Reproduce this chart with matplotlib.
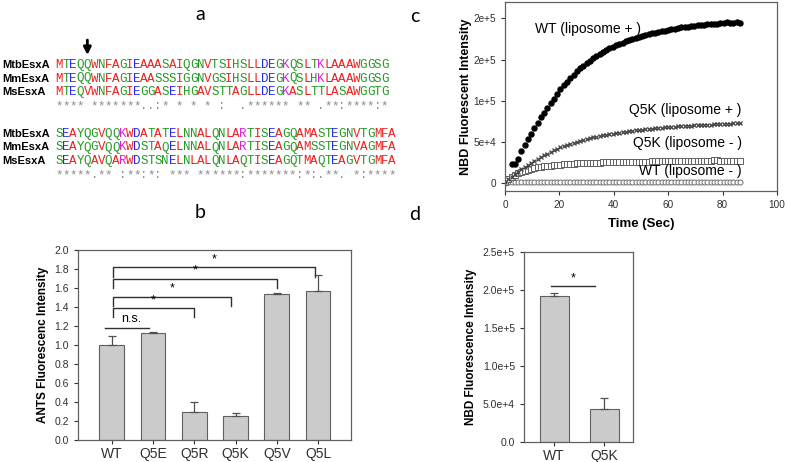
import matplotlib
matplotlib.use('Agg')
import matplotlib.pyplot as plt
import numpy as np

plt.rcParams['font.family'] = 'Liberation Sans'

W, H = 787, 462

# ---- panel a: EsxA alignment ----
seq_names = ['MtbEsxA', 'MmEsxA', 'MsEsxA']
block1 = ['MTEQQWNFAGIEAAASAIQGNVTSIHSLLDEGKQSLTKLAAAWGGSG',
          'MTEQQWNFAGIEAASSSIGGNVGSIHSLLDEGKQSLHKLAAAWGGSG',
          'MTEQVWNFAGIEGGASEIHGAVSTTAGLLDEGKASLTTLASAWGGTG']
cons1 = '**** *******..:* * * * :  .****** ** .**:****:*'
block2 = ['SEAYQGVQQKWDATATELNNALQNLARTISEAGQAMASTEGNVTGMFA',
          'SEAYQGVQQKWDSTAQELNNALQNLARTISEAGQAMSSTEGNVAGMFA',
          'SEAYQAVQARWDSTSNELNLALQNLAQTISEAGQTMAQTEAGVTGMFA']
cons2 = '*****.** :**:*: *** ******:*******:*:.**. *:****'

# ---- panel b: ANTS ----
b_labels = ['WT', 'Q5E', 'Q5R', 'Q5K', 'Q5V', 'Q5L']
b_values = [1.00, 1.13, 0.29, 0.25, 1.54, 1.57]
b_errors = [0.10, 0.01, 0.11, 0.03, 0.01, 0.17]
b_sig_ends = [2.0, 2.9, 4.0, 4.92]
b_sig_heights = [1.39, 1.51, 1.70, 1.82]

# ---- panel c: NBD kinetics (values in units of 1e3) ----
time_sec = [0.0, 1.2, 2.4, 3.6, 4.8, 6.0, 7.2, 8.4, 9.6, 10.8, 12.0, 13.2, 14.4, 15.6,
            16.8, 18.0, 19.2, 20.4, 21.6, 22.8, 24.0, 25.2, 26.4, 27.6, 28.8, 30.0,
            31.2, 32.4, 33.6, 34.8, 36.0, 37.2, 38.4, 39.6, 40.8, 42.0, 43.2, 44.4,
            45.6, 46.8, 48.0, 49.2, 50.4, 51.6, 52.8, 54.0, 55.2, 56.4, 57.6, 58.8,
            60.0, 61.2, 62.4, 63.6, 64.8, 66.0, 67.2, 68.4, 69.6, 70.8, 72.0, 73.2,
            74.4, 75.6, 76.8, 78.0, 79.2, 80.4, 81.6, 82.8, 84.0, 85.2, 86.4]
wt_lipo = [np.nan, np.nan, 22.5, 22.8, 29.5, 38.5, 46.0, 53.0, 59.5, 66.5, 73.0, 79.5,
           85.5, 91.5, 97.0, 102.5, 108.0, 113.7, 118.6, 123.2, 127.5, 131.6, 135.5,
           139.1, 142.5, 145.7, 148.7, 151.6, 154.2, 156.8, 159.1, 161.4, 163.5, 165.4,
           167.3, 169.0, 170.7, 172.2, 173.7, 175.1, 176.4, 177.6, 178.7, 179.8, 180.8,
           181.8, 182.7, 183.5, 184.5, 185.3, 186.2, 187.0, 187.6, 188.4, 189.0, 189.4,
           190.1, 190.6, 191.0, 191.6, 192.0, 192.3, 192.8, 193.0, 193.3, 193.8, 194.0,
           194.3, 195.4, 195.0, 194.8, 195.2, 194.9]
q5k_lipo = [1.0, 4.5, 7.5, 10.5, 13.5, 16.5, 19.5, 22.0, 24.5, 27.0, 29.5, 31.5, 33.5,
            35.5, 37.5, 39.5, 41.2, 43.0, 44.5, 46.0, 47.5, 48.8, 50.0, 51.2, 52.3, 53.3,
            54.3, 55.2, 56.1, 57.0, 57.8, 58.5, 59.2, 59.9, 60.5, 61.1, 61.7, 62.3, 62.8,
            63.3, 63.8, 64.3, 64.7, 65.1, 65.5, 65.9, 66.3, 66.7, 67.0, 67.3, 67.6, 67.9,
            68.2, 68.5, 68.8, 69.0, 69.3, 69.5, 69.8, 70.0, 70.2, 70.4, 70.6, 70.8, 71.0,
            71.2, 71.4, 71.6, 71.8, 72.0, 72.2, 72.4, 72.6]
q5k_nolipo = [1.0, 4.0, 7.0, 9.5, 11.5, 13.3, 14.8, 16.0, 17.0, 17.9, 18.7, 19.4, 20.0,
              20.5, 21.0, 21.4, 21.8, 22.2, 22.5, 22.8, 23.1, 23.3, 23.5, 23.7, 23.9,
              24.1, 24.2, 24.4, 24.5, 24.6, 24.8, 24.9, 25.0, 25.1, 25.2, 25.2, 25.3,
              25.4, 25.5, 25.5, 25.6, 25.6, 25.7, 25.8, 25.8, 25.9, 25.9, 26.0, 26.0,
              26.1, 26.1, 26.2, 26.2, 26.3, 26.3, 26.4, 26.4, 26.5, 26.5, 26.6, 26.6,
              26.7, 26.7, 26.8, 27.3, 27.6, 27.0, 26.8, 26.8, 26.9, 26.9, 27.0, 27.0]
wt_nolipo = [0.0, 0.6, 0.8, 0.9, 1.0, 1.0, 1.1, 1.0, 1.0, 1.1,
             1.0, 1.0, 1.1, 1.0, 1.0, 1.1, 1.0, 1.0, 1.0, 1.1,
             1.0, 1.0, 1.1, 1.0, 1.0, 1.0, 1.1, 1.0, 1.0, 1.0,
             1.1, 1.0, 1.0, 1.0, 1.1, 1.0, 1.0, 1.0, 1.1, 1.0,
             1.0, 1.0, 1.1, 1.0, 1.0, 1.0, 1.1, 1.0, 1.0, 1.0,
             1.1, 1.0, 1.0, 1.0, 1.1, 1.0, 1.0, 1.0, 1.1, 1.0,
             1.0, 1.0, 1.1, 1.0, 1.0, 1.0, 1.1, 1.0, 1.0, 1.0,
             1.1, 1.0, 1.2]
c_ytick_labels = ['0', '5e+4', '1e+5', '2e+5', '2e+5']

# ---- panel d: NBD endpoint ----
d_labels = ['WT', 'Q5K']
d_values = [1.925e5, 4.3e4]
d_errors = [4e3, 1.5e4]

bar_face = '#cbcbcb'
edge = '#606060'


def px_axes(l, t, r, b):
    return fig.add_axes([l / W, 1 - b / H, (r - l) / W, (b - t) / H])


def style_box(ax):
    for s in ax.spines.values():
        s.set_color(edge)
        s.set_linewidth(0.9)
    ax.tick_params(colors='#303030', direction='out', length=3, width=0.8)


fig = plt.figure(figsize=(W / 100, H / 100), dpi=100)

# panel b
axb = px_axes(78, 250, 351, 440)
xb = np.arange(len(b_labels))
axb.bar(xb, b_values, width=0.6, color=bar_face, edgecolor=edge, linewidth=0.8, zorder=2)
axb.errorbar(xb, b_values, yerr=[np.zeros(len(b_errors)), b_errors], fmt='none',
             ecolor='#505050', elinewidth=0.9, capsize=3, capthick=0.9, zorder=3)
axb.set_xlim(-0.82, 5.8)
axb.set_ylim(0, 2.0)
axb.set_yticks(np.arange(0, 2.01, 0.2))
axb.set_yticklabels(['%.1f' % v for v in np.arange(0, 2.01, 0.2)], fontsize=7.5)
axb.set_xticks(xb)
axb.set_xticklabels(b_labels, fontsize=10)
axb.tick_params(axis='x', length=2, pad=2)
axb.set_ylabel('ANTS Fluorescenc Intensity', fontsize=8.5, fontweight='bold', labelpad=4)
style_box(axb)
for end, h in zip(b_sig_ends, b_sig_heights):
    axb.plot([0.02, 0.02, end, end], [h - 0.1, h, h, h - 0.1], color='#303030', lw=1.0)
    axb.text((0.02 + end) / 2, h + 0.02, '*', ha='center', va='bottom', fontsize=9)
axb.plot([-0.17, 0.9], [1.18, 1.18], color='#303030', lw=1.0)
axb.text(0.48, 1.21, 'n.s.', ha='center', va='bottom', fontsize=9)

# panel c
axc = px_axes(505, 2, 777, 191)
tc = np.array(time_sec)
axc.plot(tc, np.array(wt_nolipo) * 1e3, 'o', ms=3.6, mfc='white', mec='#707070', mew=0.7)
axc.plot(tc, np.array(q5k_nolipo) * 1e3, 's', ms=3.8, mfc='white', mec='#606060', mew=0.7)
axc.plot(tc, np.array(q5k_lipo) * 1e3, 'x', ms=3.4, color='#404040', mew=0.9)
axc.plot(tc, np.array(wt_lipo) * 1e3, 'o', ms=3.6, color='black')
axc.set_xlim(0, 100)
axc.set_ylim(-1e4, 2.2e5)
axc.set_xticks(range(0, 101, 20))
axc.set_xticklabels([str(v) for v in range(0, 101, 20)], fontsize=7.2)
axc.set_yticks([0, 5e4, 1e5, 1.5e5, 2e5])
axc.set_yticklabels(c_ytick_labels, fontsize=7.2)
axc.set_xlabel('Time (Sec)', fontsize=9.5, fontweight='bold', labelpad=6)
axc.set_ylabel('NBD Fluorescent Intensity', fontsize=9, fontweight='bold', labelpad=1)
style_box(axc)
axc.text(11, 1.87e5, 'WT (liposome + )', fontsize=10, ha='left', va='center')
axc.text(87, 8.8e4, 'Q5K (liposome + )', fontsize=10, ha='right', va='center')
axc.text(87, 4.8e4, 'Q5K (liposome - )', fontsize=10, ha='right', va='center')
axc.text(87, 1.4e4, 'WT (liposome - )', fontsize=10, ha='right', va='center')

# panel d
axd = px_axes(524, 252, 633, 442)
xd = np.arange(len(d_labels))
axd.bar(xd, d_values, width=0.58, color=bar_face, edgecolor=edge, linewidth=0.8, zorder=2)
axd.errorbar(xd, d_values, yerr=[np.zeros(len(d_errors)), d_errors], fmt='none',
             ecolor='#505050', elinewidth=0.9, capsize=3, capthick=0.9, zorder=3)
axd.set_xlim(-0.6, 1.58)
axd.set_ylim(0, 2.5e5)
axd.set_yticks(np.arange(0, 2.51e5, 5e4))
axd.set_yticklabels(['0.0', '5.0e+4', '1.0e+5', '1.5e+5', '2.0e+5', '2.5e+5'], fontsize=7.5)
axd.set_xticks(xd)
axd.set_xticklabels(d_labels, fontsize=10)
axd.tick_params(axis='x', length=2, pad=2)
axd.set_ylabel('NBD Fluorescence Intensity', fontsize=8.5, fontweight='bold', labelpad=4)
style_box(axd)
axd.plot([-0.06, 0.82], [2.05e5, 2.05e5], color='#303030', lw=1.0)
axd.text(0.38, 2.07e5, '*', ha='center', va='bottom', fontsize=9)

# overlay in pixel coordinates for panel a and letters
ov = fig.add_axes([0, 0, 1, 1])
ov.set_xlim(0, W)
ov.set_ylim(H, 0)
ov.axis('off')

for letter, (lx, ly) in zip('abcd', [(200, 15), (200, 213), (415, 16), (415, 214)]):
    ov.text(lx, ly, letter, fontsize=14, family='Lato', ha='center', va='center')

aa_colors = {}
for ch in 'AVFPMILW':
    aa_colors[ch] = '#ee2020'
for ch in 'DE':
    aa_colors[ch] = '#2a2aee'
for ch in 'KR':
    aa_colors[ch] = '#e020e0'

pitch = 7.08
x0 = 55.5
for block, cons, base in [(block1, cons1, 68), (block2, cons2, 137)]:
    for r, (name, seq) in enumerate(zip(seq_names, block)):
        yb = base + r * 13.5
        ov.text(2, yb, name, fontsize=8, fontweight='bold', va='baseline', ha='left')
        for i, ch in enumerate(seq):
            ov.text(x0 + (i + 0.5) * pitch, yb, ch, family='Liberation Mono', fontsize=9,
                    color=aa_colors.get(ch, '#229a22'), ha='center', va='baseline')
    for i, ch in enumerate(cons):
        if ch != ' ':
            ov.text(x0 + (i + 0.5) * pitch, base + 3 * 13.5 + 0.5, ch, family='Liberation Mono',
                    fontsize=9, color='#8a8a8a', ha='center', va='baseline')

ov.annotate('', xy=(x0 + 4.5 * pitch, 55), xytext=(x0 + 4.5 * pitch, 40),
            arrowprops=dict(arrowstyle='-|>', color='black', lw=2.0, mutation_scale=11,
                            shrinkA=0, shrinkB=0))

fig.savefig('out.png', dpi=100)
